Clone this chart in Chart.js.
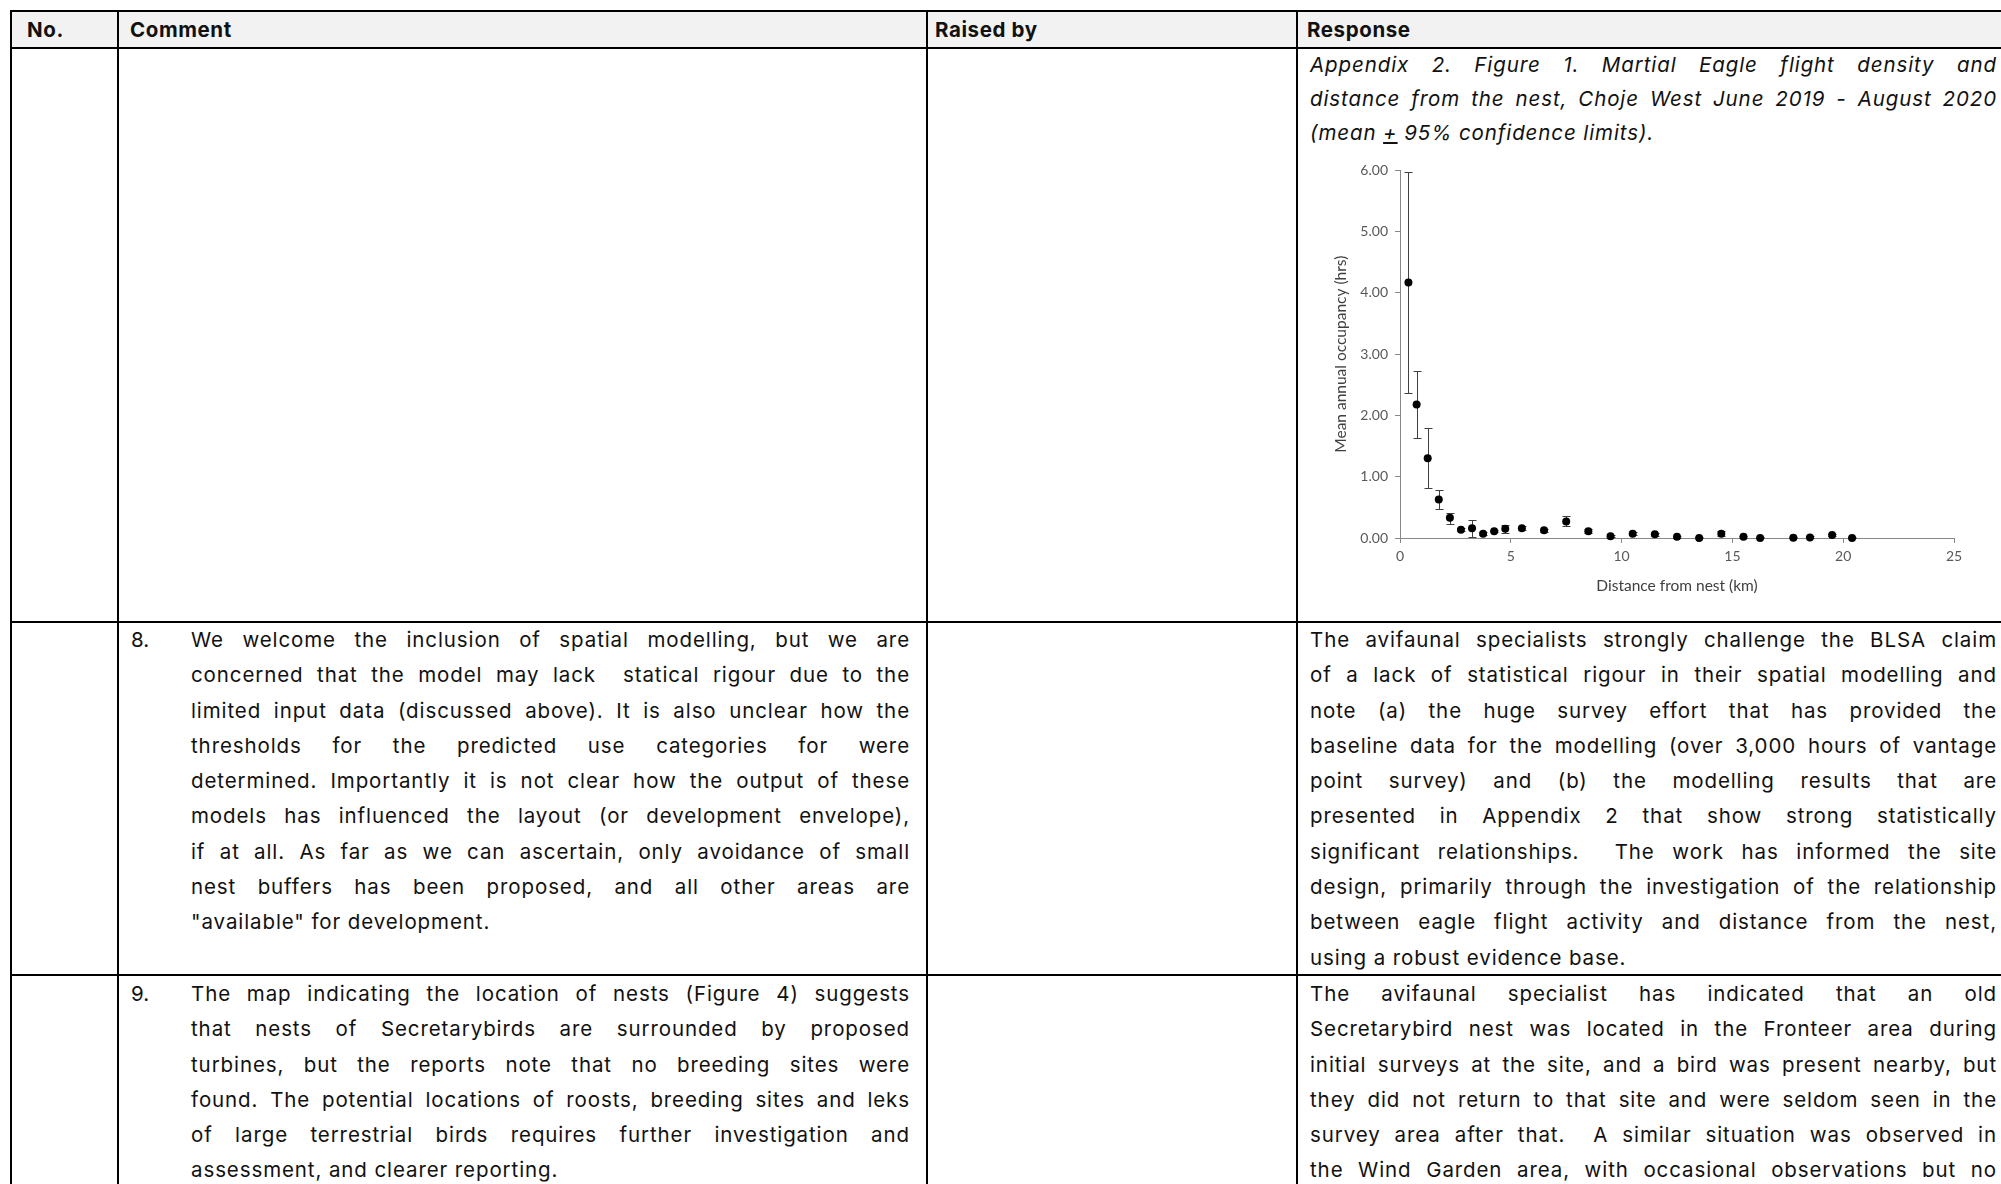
<!DOCTYPE html>
<html>
<head>
<meta charset="utf-8">
<script src="https://cdn.jsdelivr.net/npm/chart.js@4/dist/chart.umd.min.js"></script>
<style>
    body { margin: 0; width: 2001px; height: 1184px; overflow: hidden; background: #fff; position: relative; font-family: Inter, "Open Sans", sans-serif; color: #111; }
    .hl { position: absolute; left: 10px; right: 0; height: 2px; background: #000; }
    .vl { position: absolute; top: 10px; bottom: 0; width: 2px; background: #000; }
    .head { position: absolute; top: 12px; left: 12px; right: 0; height: 35px; background: #f2f2f2; }
    .th { position: absolute; top: 12px; height: 35px; line-height: 35px; font-weight: 700; font-size: 20.5px; letter-spacing: 0.6px; }
    .cell { position: absolute; font-size: 20.5px; line-height: 35.3px; }
    .cell div { white-space: nowrap; text-align: justify; text-align-last: justify; }
    .cell div.end { text-align-last: left; }
    .caption { font-style: italic; line-height: 34px; }
    .num { position: absolute; left: 131px; font-size: 20.5px; line-height: 35.3px; }
    #chartBox { position: absolute; left: 1320px; top: 155px; width: 650px; height: 445px; }
</style>
</head>
<body>
<div class="head"></div>
<div class="hl" style="top:10px"></div>
<div class="hl" style="top:47px"></div>
<div class="hl" style="top:621px"></div>
<div class="hl" style="top:974px"></div>
<div class="vl" style="left:10px"></div>
<div class="vl" style="left:117px"></div>
<div class="vl" style="left:926px"></div>
<div class="vl" style="left:1296px"></div>

<div class="th" style="left:27px">No.</div>
<div class="th" style="left:130px">Comment</div>
<div class="th" style="left:935px">Raised by</div>
<div class="th" style="left:1307px">Response</div>

<div class="cell caption" style="left:1310px; top:48px; width:687px">
    <div>Appendix 2. Figure 1. Martial Eagle flight density and</div>
    <div>distance from the nest, Choje West June 2019 - August 2020</div>
    <div class="end">(mean <u>+</u> 95% confidence limits).</div>
</div>

<div id="chartBox"><canvas id="occupancyChart" width="650" height="445"></canvas></div>

<div class="num" style="top:622px">8.</div>
<div class="cell" style="left:191px; top:622px; width:719px">
    <div>We welcome the inclusion of spatial modelling, but we are</div>
    <div>concerned that the model may lack&nbsp; statical rigour due to the</div>
    <div>limited input data (discussed above). It is also unclear how the</div>
    <div>thresholds for the predicted use categories for were</div>
    <div>determined. Importantly it is not clear how the output of these</div>
    <div>models has influenced the layout (or development envelope),</div>
    <div>if at all. As far as we can ascertain, only avoidance of small</div>
    <div>nest buffers has been proposed, and all other areas are</div>
    <div class="end">"available" for development.</div>
</div>
<div class="cell" style="left:1310px; top:622px; width:687px">
    <div>The avifaunal specialists strongly challenge the BLSA claim</div>
    <div>of a lack of statistical rigour in their spatial modelling and</div>
    <div>note (a) the huge survey effort that has provided the</div>
    <div>baseline data for the modelling (over 3,000 hours of vantage</div>
    <div>point survey) and (b) the modelling results that are</div>
    <div>presented in Appendix 2 that show strong statistically</div>
    <div>significant relationships.&nbsp; The work has informed the site</div>
    <div>design, primarily through the investigation of the relationship</div>
    <div>between eagle flight activity and distance from the nest,</div>
    <div class="end">using a robust evidence base.</div>
</div>

<div class="num" style="top:976px">9.</div>
<div class="cell" style="left:191px; top:976px; width:719px">
    <div>The map indicating the location of nests (Figure 4) suggests</div>
    <div>that nests of Secretarybirds are surrounded by proposed</div>
    <div>turbines, but the reports note that no breeding sites were</div>
    <div>found. The potential locations of roosts, breeding sites and leks</div>
    <div>of large terrestrial birds requires further investigation and</div>
    <div class="end">assessment, and clearer reporting.</div>
</div>
<div class="cell" style="left:1310px; top:976px; width:687px">
    <div>The avifaunal specialist has indicated that an old</div>
    <div>Secretarybird nest was located in the Fronteer area during</div>
    <div>initial surveys at the site, and a bird was present nearby, but</div>
    <div>they did not return to that site and were seldom seen in the</div>
    <div>survey area after that.&nbsp; A similar situation was observed in</div>
    <div>the Wind Garden area, with occasional observations but no</div>
</div>

<script>
// distance bins (km) and mean annual occupancy (hrs), with 95% limits
const distanceKm = [0.38, 0.75, 1.25, 1.75, 2.25, 2.75, 3.25, 3.75, 4.25, 4.75, 5.5, 6.5, 7.5, 8.5, 9.5, 10.5, 11.5, 12.5, 13.5, 14.5, 15.5, 16.25, 17.75, 18.5, 19.5, 20.4]
const occupancy = [4.17, 2.18, 1.30, 0.63, 0.33, 0.135, 0.16, 0.07, 0.11, 0.15, 0.16, 0.125, 0.27, 0.11, 0.03, 0.07, 0.06, 0.02, 0.0, 0.07, 0.02, 0.0, 0.005, 0.01, 0.05, 0.0]
const lowerCI = [2.36, 1.63, 0.81, 0.47, 0.23, 0.11, 0.01, 0.05, 0.09, 0.08, 0.13, 0.10, 0.19, 0.08, 0.01, 0.05, 0.04, 0.0, 0.0, 0.04, 0.0, 0.0, 0.0, 0.0, 0.03, 0.0]
const upperCI = [5.98, 2.73, 1.80, 0.79, 0.41, 0.16, 0.30, 0.09, 0.13, 0.22, 0.19, 0.15, 0.36, 0.14, 0.05, 0.09, 0.08, 0.04, 0.02, 0.11, 0.04, 0.02, 0.02, 0.03, 0.07, 0.02]
const xTicks = [0, 5, 10, 15, 20, 25]
const yTicks = [0, 1, 2, 3, 4, 5, 6]

// Century Gothic is wider than Inter: open the letters up, then squeeze any line that overflows its cell
document.querySelectorAll('.cell div').forEach(el => {
    let ls = 0.9
    el.style.letterSpacing = ls + 'px'
    while (el.scrollWidth > el.clientWidth && ls > -3) {
        ls -= 0.1
        el.style.letterSpacing = ls + 'px'
    }
})

const errorBars = {
    id: 'errorBars',
    beforeDatasetsDraw(chart) {
        const ctx = chart.ctx
        const xs = chart.scales.x
        const ys = chart.scales.y
        ctx.save()
        ctx.strokeStyle = '#404040'
        ctx.lineWidth = 1
        for (let i in distanceKm) {
            const px = Math.round(xs.getPixelForValue(distanceKm[i])) + 0.5
            const top = Math.round(ys.getPixelForValue(upperCI[i])) + 0.5
            const bot = Math.round(ys.getPixelForValue(lowerCI[i])) + 0.5
            ctx.beginPath()
            ctx.moveTo(px, top); ctx.lineTo(px, bot)
            ctx.moveTo(px - 4, top); ctx.lineTo(px + 4, top)
            ctx.moveTo(px - 4, bot); ctx.lineTo(px + 4, bot)
            ctx.stroke()
        }
        ctx.restore()
    }
}

function drawChart() {
    const points = distanceKm.map((d, i) => ({ x: d, y: occupancy[i] }))
    const axisFont = { family: 'Lato, "Liberation Sans", sans-serif', size: 14 }
    const titleFont = { family: 'Lato, "Liberation Sans", sans-serif', size: 15.5 }

    new Chart(document.getElementById('occupancyChart'), {
        type: 'scatter',
        data: {
            datasets: [{
                data: points,
                pointRadius: 4,
                pointHoverRadius: 4,
                backgroundColor: '#000',
                borderWidth: 0,
                clip: false
            }]
        },
        options: {
            responsive: false,
            animation: false,
            layout: { padding: { top: 13, right: 16, left: 0, bottom: 0 } },
            plugins: { legend: { display: false }, tooltip: { enabled: false } },
            scales: {
                x: {
                    type: 'linear',
                    min: 0,
                    max: 25,
                    afterBuildTicks: s => { s.ticks = xTicks.map(v => ({ value: v })) },
                    afterFit: s => { s.height = 62 },
                    ticks: { color: '#595959', font: axisFont, padding: 5 },
                    grid: { drawOnChartArea: false, drawTicks: true, tickLength: 5, color: '#888' },
                    border: { color: '#888', width: 1 },
                    title: { display: true, text: 'Distance from nest (km)', color: '#404040', font: titleFont, padding: { top: 0, bottom: 5 } }
                },
                y: {
                    min: 0,
                    max: 6,
                    afterBuildTicks: s => { s.ticks = yTicks.map(v => ({ value: v })) },
                    afterFit: s => { s.width = 80 },
                    ticks: { color: '#595959', font: axisFont, padding: 7, callback: v => v.toFixed(2) },
                    grid: { drawOnChartArea: false, drawTicks: true, tickLength: 5, color: '#888' },
                    border: { color: '#888', width: 1 },
                    title: { display: true, text: 'Mean annual occupancy (hrs)', color: '#404040', font: titleFont, padding: { top: 12, bottom: 0 } }
                }
            }
        },
        plugins: [errorBars]
    })
}
drawChart()
</script>
</body>
</html>
